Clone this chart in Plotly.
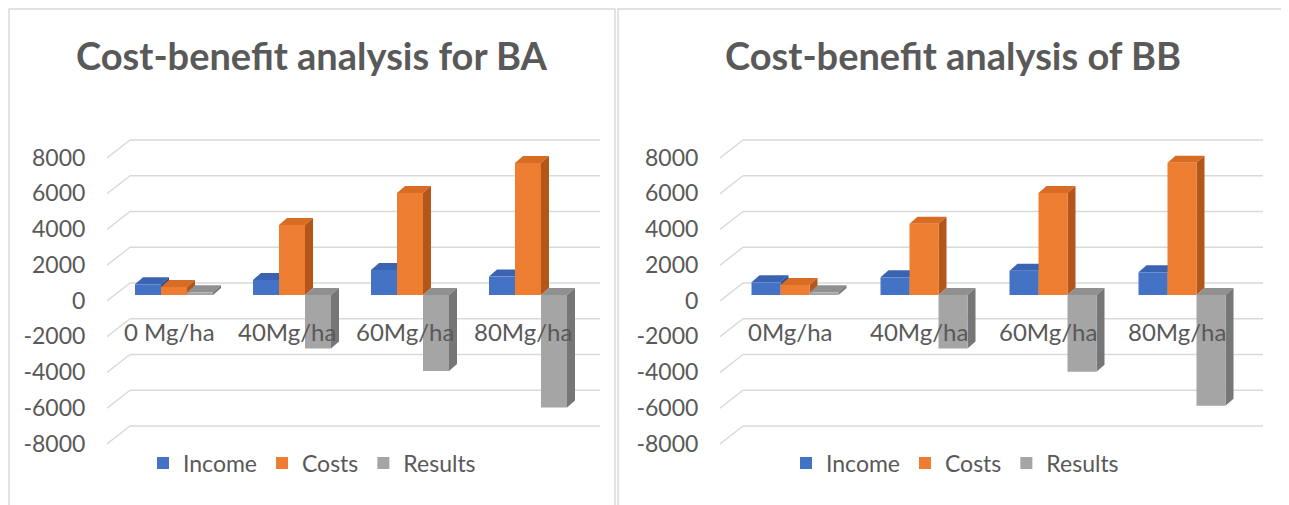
import plotly.graph_objects as go

# ---------------- data ----------------
categories_ba = ["0 Mg/ha", "40Mg/ha", "60Mg/ha", "80Mg/ha"]
categories_bb = ["0Mg/ha", "40Mg/ha", "60Mg/ha", "80Mg/ha"]
series_names = ["Income", "Costs", "Results"]

income_ba = [600, 840, 1400, 1030]
costs_ba = [450, 3920, 5700, 7380]
results_ba = [150, -3000, -4250, -6300]

income_bb = [710, 990, 1360, 1270]
costs_bb = [560, 3980, 5700, 7400]
results_bb = [150, -3000, -4300, -6200]

y_ticks = [-8000, -6000, -4000, -2000, 0, 2000, 4000, 6000, 8000]
titles = ["Cost-benefit analysis for BA", "Cost-benefit analysis of BB"]

# ---------------- style ----------------
PAGE_OFF = 8          # default body margin of the html page
W, H = 1289 - PAGE_OFF, 505 - PAGE_OFF
FONT = "Lato"
TXT = "#595959"
GRID = "#D9D9D9"
front_cols = ["#4472C4", "#ED7D31", "#A5A5A5"]
top_cols = ["#3A64B2", "#D86C25", "#909090"]
side_cols = ["#2D4F8E", "#B4561A", "#767676"]


def X(px):
    return (px - PAGE_OFF) / W


def Y(py):
    return 1 - (py - PAGE_OFF) / H


# pixel geometry of each panel (layout only)
panels = [
    dict(dom=(107, 600), c0=174, sp=118, bw=26, legx=312, titlex=312,
         box=(9, 615), cats=categories_ba,
         vals=[income_ba, costs_ba, results_ba]),
    dict(dom=(720, 1263), c0=795, sp=129, bw=29, legx=955, titlex=953,
         box=(618, 1284), cats=categories_bb,
         vals=[income_bb, costs_bb, results_bb]),
]

y_top_px, y_bot_px, y_zero_px = 130, 450, 295
upp = 2000 / 35.75  # value units per pixel
y_range = [-(y_bot_px - y_zero_px) * upp, (y_zero_px - y_top_px) * upp]
label_shift = 5.5 * upp

fig = go.Figure()
shapes = []
annotations = []
layout_axes = {}

for k, p in enumerate(panels):
    n = k + 1
    xa = "x" if n == 1 else f"x{n}"
    ya = "y" if n == 1 else f"y{n}"
    ya_lab = f"y{n + 2}"
    sp = p["sp"]
    xr = [(p["dom"][0] - p["c0"]) / sp, (p["dom"][1] - p["c0"]) / sp]
    bw = p["bw"] / sp
    ddx = 8 / sp
    ddy = 7 * upp
    legend_name = "legend" if n == 1 else f"legend{n}"

    # 3D-style gridlines derived from tick values
    diag_x = xr[0] + 23 / sp
    for v in y_ticks:
        back = v + 12 * upp
        front = v - 6 * upp
        shapes.append(dict(type="line", xref=xa, yref=ya, x0=xr[0], y0=front,
                           x1=diag_x, y1=back, line=dict(color=GRID, width=1.4),
                           layer="below"))
        shapes.append(dict(type="line", xref=xa, yref=ya, x0=diag_x, y0=back,
                           x1=xr[1], y1=back, line=dict(color=GRID, width=1.4),
                           layer="below"))

    offsets = [-1.5 * bw, -0.5 * bw, 0.5 * bw]
    xs = list(range(len(p["cats"])))
    for s, name in enumerate(series_names):
        vals = p["vals"][s]
        fig.add_trace(go.Bar(
            x=xs, y=vals, width=bw, offset=offsets[s], name=name,
            marker=dict(color=front_cols[s], line=dict(width=0)),
            xaxis=xa, yaxis=ya, legend=legend_name, showlegend=True,
            hovertemplate="%{y}<extra>" + name + "</extra>",
        ))
        for i, v in zip(xs, vals):
            x0 = i + offsets[s]
            x1 = x0 + bw
            top = max(v, 0)
            bot = min(v, 0)
            shapes.append(dict(
                type="path", xref=xa, yref=ya, layer="below",
                path=f"M{x0},{top} L{x1},{top} L{x1 + ddx},{top + ddy} L{x0 + ddx},{top + ddy} Z",
                fillcolor=top_cols[s], line=dict(width=0)))
            shapes.append(dict(
                type="path", xref=xa, yref=ya, layer="below",
                path=f"M{x1},{top} L{x1 + ddx},{top + ddy} L{x1 + ddx},{bot + ddy} L{x1},{bot} Z",
                fillcolor=side_cols[s], line=dict(width=0)))

    # invisible trace carrying the tick-label axis
    fig.add_trace(go.Scatter(x=[xr[0]] * len(y_ticks), y=y_ticks, mode="markers",
                             marker=dict(opacity=0), xaxis=xa, yaxis=ya_lab,
                             showlegend=False, hoverinfo="skip"))

    # category labels
    for i, c in zip(xs, p["cats"]):
        annotations.append(dict(x=i - 5 / sp, y=-2050, xref=xa, yref=ya, text=c,
                                showarrow=False, xanchor="center", yanchor="middle",
                                font=dict(family=FONT, size=24, color=TXT)))

    # title
    annotations.append(dict(x=X(p["titlex"]), y=Y(55), xref="paper", yref="paper",
                            text=f"<b>{titles[k]}</b>", showarrow=False,
                            xanchor="center", yanchor="middle",
                            font=dict(family=FONT, size=38, color=TXT)))

    # panel border
    shapes.append(dict(type="rect", xref="paper", yref="paper",
                       x0=X(p["box"][0]), x1=X(p["box"][1]), y0=Y(512), y1=Y(9),
                       line=dict(color=GRID, width=1.5), fillcolor="rgba(0,0,0,0)",
                       layer="below"))

    dom_x = [X(p["dom"][0]), X(p["dom"][1])]
    dom_y = [Y(y_bot_px), Y(y_top_px)]
    xkey = "xaxis" if n == 1 else f"xaxis{n}"
    ykey = "yaxis" if n == 1 else f"yaxis{n}"
    layout_axes[xkey] = dict(domain=dom_x, range=xr, visible=False, anchor=ya,
                             automargin=False)
    layout_axes[ykey] = dict(domain=dom_y, range=y_range, showgrid=False,
                             zeroline=False, showticklabels=False, anchor=xa,
                             automargin=False)
    layout_axes[f"yaxis{n + 2}"] = dict(
        overlaying=ya, anchor=xa, side="left", automargin=False,
        range=[y_range[0] + label_shift, y_range[1] + label_shift],
        tickvals=y_ticks, ticktext=[str(t) for t in y_ticks],
        showgrid=False, zeroline=False, showline=False,
        ticks="outside", ticklen=16, tickcolor="rgba(0,0,0,0)",
        tickfont=dict(family=FONT, size=23, color=TXT))
    layout_axes[legend_name] = dict(
        orientation="h", x=X(p["legx"]), y=Y(463), xanchor="center", yanchor="middle",
        font=dict(family=FONT, size=23, color=TXT), bgcolor="rgba(0,0,0,0)",
        itemwidth=30, traceorder="normal", itemclick=False, itemdoubleclick=False)

fig.update_layout(
    template="none",
    width=W, height=H, margin=dict(l=0, r=0, t=0, b=0, autoexpand=False),
    paper_bgcolor="white", plot_bgcolor="rgba(0,0,0,0)",
    barmode="overlay", shapes=shapes, annotations=annotations,
    font=dict(family=FONT, color=TXT),
    **layout_axes,
)

fig.write_html("out.html")
